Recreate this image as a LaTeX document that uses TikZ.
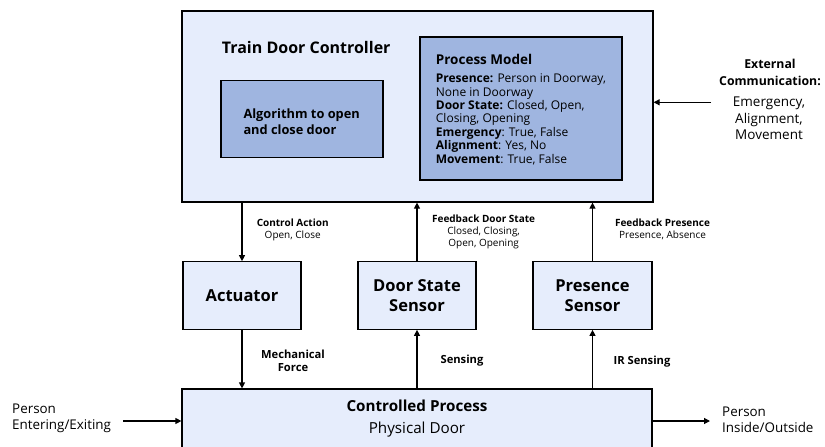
\documentclass[tikz,border=0pt]{standalone}
\usepackage{fontspec}
\setmainfont{Open Sans}
\usepackage{tikz}
\usetikzlibrary{arrows.meta, calc}
\definecolor{boxlight}{HTML}{E6EDFC}
\definecolor{boxdark}{HTML}{9FB5E0}
\tikzstyle{blk}=[fill=boxlight, draw=black, line width=1.2pt, shape=rectangle, inner sep=0pt, align=center]
\tikzstyle{inr}=[fill=boxdark, draw=black, line width=1.2pt, shape=rectangle, inner sep=0pt]
\tikzstyle{sub}=[style=blk, minimum width=118, minimum height=67.5, font=\fontsize{16.5}{19.7}\selectfont\bfseries]
\tikzstyle{arr}=[draw=black, line width=1.2pt, -{Triangle[length=6pt, width=6pt]}]
\tikzstyle{lbl}=[align=center, inner sep=0pt, font=\fontsize{10}{12}\selectfont]
\tikzstyle{sig}=[align=center, inner sep=0pt, font=\fontsize{11.2}{13.3}\selectfont\bfseries]
\tikzstyle{side}=[align=left, inner sep=0pt, anchor=west, font=\fontsize{13.4}{16}\selectfont]

\begin{document}
\begin{tikzpicture}[x=1pt, y=-1pt]
		\useasboundingbox (0,0) rectangle (825,447);
		\clip (0,0) rectangle (825,447);

		\node[style=blk, minimum width=471, minimum height=191] (1) at (417.5,106.5) {};
		\node[style=inr, minimum width=162, minimum height=77] (2) at (302,119.2) {};
		\node[style=inr, minimum width=202, minimum height=143] (3) at (521,108.4) {};
		\node[style=sub] (4) at (242,295.5) {Actuator};
		\node[style=sub] (5) at (417,295.5) {Door State\\Sensor};
		\node[style=sub, minimum width=119] (6) at (592.5,295.5) {Presence\\Sensor};
		\node[style=blk, minimum width=470, minimum height=64] (7) at (417,421) {};

		\node[anchor=west, inner sep=0pt, font=\fontsize{16}{19}\selectfont\bfseries] (8) at (221.7,47.7) {Train Door Controller};
		\node[anchor=west, align=left, inner sep=0pt, font=\fontsize{12.8}{16.7}\selectfont\bfseries] (9) at (243.3,121.7) {Algorithm to open\\and close door};
		\node[anchor=west, inner sep=0pt, font=\fontsize{13.5}{16}\selectfont\bfseries] (10) at (435.7,59) {Process Model};
		\node[anchor=west, align=left, inner sep=0pt, font=\fontsize{12}{13.4}\selectfont] (11) at (435.7,119.3) {\textbf{Presence:} Person in Doorway,\\None in Doorway\\\textbf{Door State:} Closed, Open,\\Closing, Opening\\\textbf{Emergency}: True, False\\\textbf{Alignment}: Yes, No\\\textbf{Movement}: True, False};

		\node[style=lbl] (12) at (292.7,229.5) {\textbf{Control Action}\\Open, Close};
		\node[style=lbl] (13) at (483.6,231.7) {\textbf{Feedback Door State}\\Closed, Closing,\\Open, Opening};
		\node[style=lbl] (14) at (662.5,229.2) {\textbf{Feedback Presence}\\Presence, Absence};
		\node[style=sig] (15) at (293,360.7) {Mechanical\\Force};
		\node[style=sig] (16) at (462,361) {Sensing};
		\node[style=sig] (17) at (642,361.7) {IR Sensing};
		\node[style=lbl, font=\fontsize{15.2}{21.6}\selectfont] (18) at (417,418.5) {\textbf{Controlled Process}\\Physical Door};

		\node[style=side] (19) at (12,418) {Person\\Entering/Exiting};
		\node[style=side] (20) at (722,420) {Person\\Inside/Outside};
		\node[style=lbl, font=\fontsize{12.3}{16.7}\selectfont\bfseries] (21) at (770,72.3) {External\\Communication:};
		\node[style=lbl, font=\fontsize{13.5}{16.5}\selectfont] (22) at (769,118.5) {Emergency,\\Alignment,\\Movement};

		\coordinate (23) at (711,102.3);
		\coordinate (24) at (123,421);
		\coordinate (25) at (710,421);

		\draw[style=arr] (1.south -| 4.north) to (4.north);
		\draw[style=arr] (5.north) to (1.south -| 5.north);
		\draw[style=arr] (6.north) to (1.south -| 6.north);
		\draw[style=arr] (4.south) to (7.north -| 4.south);
		\draw[style=arr] (7.north -| 5.south) to (5.south);
		\draw[style=arr] (7.north -| 6.south) to (6.south);
		\draw[style=arr] (23) to (23 -| 1.east);
		\draw[style=arr] (24) to (24 -| 7.west);
		\draw[style=arr] (25 -| 7.east) to (25);
	\end{tikzpicture}
\end{document}
